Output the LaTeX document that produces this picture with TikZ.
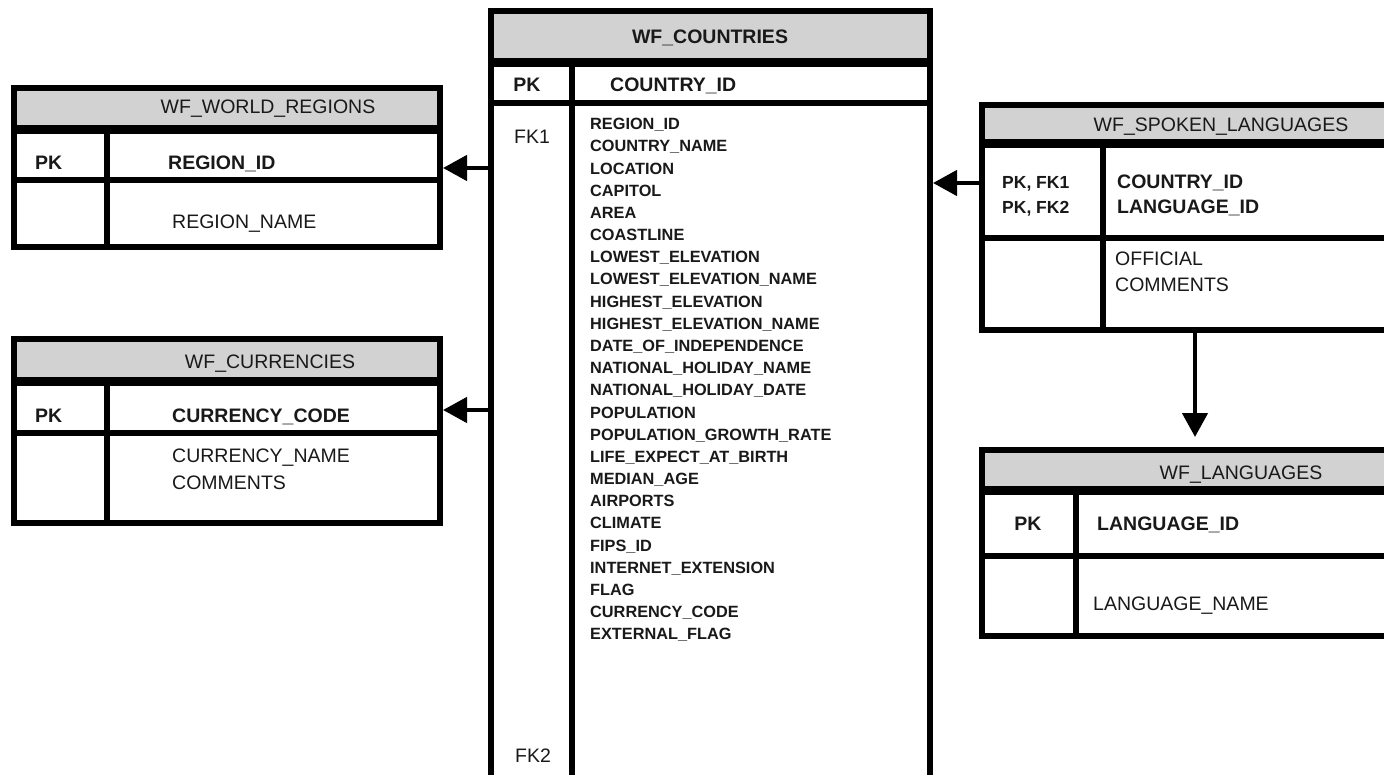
\documentclass[tikz,border=0pt]{standalone}
\usepackage{fontspec}
\setmainfont{Liberation Sans}
\usetikzlibrary{arrows.meta}

\tikzset{
  tblbox/.style={draw, line width=6pt, inner sep=0pt, anchor=north west},
  headfill/.style={fill=gray!35},
  headline/.style={line width=9pt},
  sepline/.style={line width=6pt},
  lbl/.style={inner sep=0pt, text=black!90, font=\fontsize{19.5}{24}\selectfont},
  lblb/.style={lbl, font=\fontsize{19.5}{24}\selectfont\bfseries},
  keytxt/.style={lbl, font=\fontsize{17.5}{22}\selectfont\bfseries},
  fieldtxt/.style={inner sep=0pt, anchor=base west, text=black!90, font=\fontsize{16.3}{20}\selectfont\bfseries},
  fk/.style={line width=4.5pt, -{Triangle[length=24pt,width=25pt]}},
}

\begin{document}
\begin{tikzpicture}[x=1pt,y=-1pt]
  \pgfmathsetmacro{\fy}{129.8}
  \pgfmathsetmacro{\fd}{22.17}

  \useasboundingbox (0,0) rectangle (1384,775);
  \clip (0,0) rectangle (1384,775);
  \fill[white] (0,0) rectangle (1384,775);

  \fill[headfill] (14,88) rectangle (440,130);
  \node[tblbox, minimum width=426pt, minimum height=159pt] (regions) at (11,85) {};
  \draw[headline] (14,130) -- (440,130);
  \draw[sepline] (14,180.5) -- (440,180.5);
  \draw[sepline] (106.5,130) -- (106.5,247);
  \node[lbl, anchor=base] (regions-t) at (268,114) {WF\_WORLD\_REGIONS};
  \node[lblb, anchor=base west] (regions-pk) at (35,170) {PK};
  \node[lblb, anchor=base west] (regions-id) at (168,170) {REGION\_ID};
  \node[lbl, anchor=base west] (regions-f1) at (172,229) {REGION\_NAME};

  \fill[headfill] (14,339) rectangle (440,382);
  \node[tblbox, minimum width=426pt, minimum height=184pt] (currencies) at (11,336) {};
  \draw[headline] (14,382) -- (440,382);
  \draw[sepline] (14,432.5) -- (440,432.5);
  \draw[sepline] (106.5,382) -- (106.5,523);
  \node[lbl, anchor=base] (currencies-t) at (270,369) {WF\_CURRENCIES};
  \node[lblb, anchor=base west] (currencies-pk) at (35,422) {PK};
  \node[lblb, anchor=base west] (currencies-id) at (172,422) {CURRENCY\_CODE};
  \node[lbl, anchor=base west] (currencies-f1) at (172,462) {CURRENCY\_NAME};
  \node[lbl, anchor=base west] (currencies-f2) at (172,489) {COMMENTS};

  \fill[headfill] (491,11.5) rectangle (930,62.5);
  \node[tblbox, minimum width=439pt, minimum height=900pt] (countries) at (488,8.5) {};
  \draw[headline] (491,62.5) -- (930,62.5);
  \draw[sepline] (491,103.5) -- (930,103.5);
  \draw[sepline] (571.5,62.5) -- (571.5,900);
  \node[lblb, anchor=base] (countries-t) at (710,44) {WF\_COUNTRIES};
  \node[lblb, anchor=base] (countries-pk) at (527,92) {PK};
  \node[lblb, anchor=base west] (countries-id) at (610,92) {COUNTRY\_ID};
  \node[lbl, anchor=base] (countries-fk1) at (532,144) {FK1};
  \node[lbl, anchor=base] (countries-fk2) at (533,762) {FK2};
  \foreach \fld [count=\i from 0] in {REGION\_ID, COUNTRY\_NAME, LOCATION, CAPITOL, AREA,
      COASTLINE, LOWEST\_ELEVATION, LOWEST\_ELEVATION\_NAME, HIGHEST\_ELEVATION,
      HIGHEST\_ELEVATION\_NAME, DATE\_OF\_INDEPENDENCE, NATIONAL\_HOLIDAY\_NAME,
      NATIONAL\_HOLIDAY\_DATE, POPULATION, POPULATION\_GROWTH\_RATE,
      LIFE\_EXPECT\_AT\_BIRTH, MEDIAN\_AGE, AIRPORTS, CLIMATE, FIPS\_ID,
      INTERNET\_EXTENSION, FLAG, CURRENCY\_CODE, EXTERNAL\_FLAG}
    \node[fieldtxt] (countries-f\i) at (590,\fy+\fd*\i) {\fld};

  \fill[headfill] (981.5,105) rectangle (1480,143.5);
  \node[tblbox, minimum width=500pt, minimum height=225pt] (spoken) at (978.5,102) {};
  \draw[headline] (981.5,143.5) -- (1480,143.5);
  \draw[sepline] (981.5,238.5) -- (1480,238.5);
  \draw[sepline] (1102.5,143.5) -- (1102.5,330);
  \node[lbl, anchor=base] (spoken-t) at (1221,132) {WF\_SPOKEN\_LANGUAGES};
  \node[keytxt, anchor=base west] (spoken-k1) at (1002,189) {PK, FK1};
  \node[keytxt, anchor=base west] (spoken-k2) at (1002,214) {PK, FK2};
  \node[lblb, anchor=base west] (spoken-id1) at (1117,189) {COUNTRY\_ID};
  \node[lblb, anchor=base west] (spoken-id2) at (1117,214) {LANGUAGE\_ID};
  \node[lbl, anchor=base west] (spoken-f1) at (1115,265.5) {OFFICIAL};
  \node[lbl, anchor=base west] (spoken-f2) at (1115,292) {COMMENTS};

  \fill[headfill] (981.5,450) rectangle (1480,490.5);
  \node[tblbox, minimum width=500pt, minimum height=185.5pt] (languages) at (978.5,447) {};
  \draw[headline] (981.5,490.5) -- (1480,490.5);
  \draw[sepline] (981.5,555.5) -- (1480,555.5);
  \draw[sepline] (1075.5,490.5) -- (1075.5,635.5);
  \node[lbl, anchor=base] (languages-t) at (1241,479) {WF\_LANGUAGES};
  \node[lblb, anchor=base] (languages-pk) at (1028,530) {PK};
  \node[lblb, anchor=base west] (languages-id) at (1097,530) {LANGUAGE\_ID};
  \node[lbl, anchor=base west] (languages-f1) at (1093,610) {LANGUAGE\_NAME};

  \coordinate (rk) at (0,168);
  \coordinate (ck) at (0,410);
  \coordinate (sk) at (0,183);
  \coordinate (lk) at (1195,0);
  \draw[fk] (countries.west |- rk) -- (regions.east |- rk);
  \draw[fk] (countries.west |- ck) -- (currencies.east |- ck);
  \draw[fk] (spoken.west |- sk) -- (countries.east |- sk);
  \draw[fk, shorten >=10pt] (spoken.south -| lk) -- (languages.north -| lk);
\end{tikzpicture}
\end{document}
